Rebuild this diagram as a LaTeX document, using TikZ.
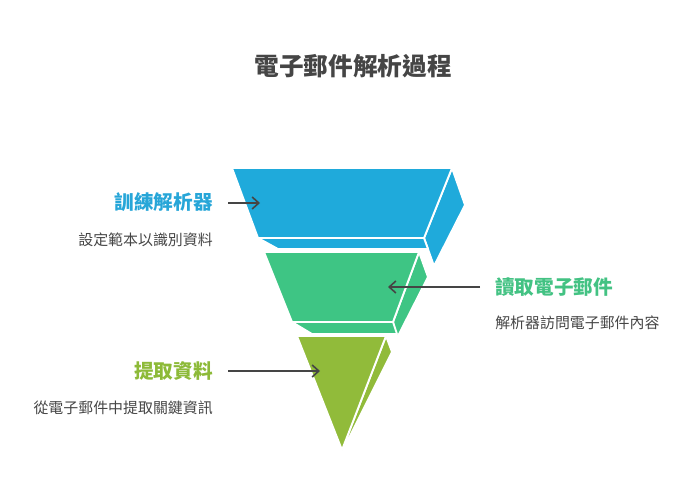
\documentclass[tikz,border=0pt]{standalone}
\usepackage{fontspec}
\newfontfamily\cjk{Noto Sans CJK TC}
\usepackage{tikz}
\usetikzlibrary{arrows.meta, positioning}
\definecolor{blueface}{HTML}{1FAADB}
\definecolor{greenface}{HTML}{3EC584}
\definecolor{oliveface}{HTML}{91BB3A}
\definecolor{bluetext}{HTML}{27A6D8}
\definecolor{greentext}{HTML}{43C283}
\definecolor{olivetext}{HTML}{8DBA38}
\definecolor{darktext}{HTML}{454545}

\begin{document}
\begin{tikzpicture}[
        x=0.75pt, y=-0.75pt, >={Straight Barb[length=5pt, width=9pt]},
        face/.style={draw=white, line width=1.4pt, line join=round},
        label text/.style={inner sep=0pt, font=\cjk\fontsize{14.7}{16}\selectfont\bfseries},
        desc text/.style={inner sep=0pt, font=\cjk\fontsize{11.2}{13}\selectfont, text=darktext},
        pointer/.style={->, draw=darktext, line width=1.2pt},
        ]
        \useasboundingbox (0,0) rectangle (696,503);

        \node[inner sep=0pt, font=\cjk\fontsize{18.5}{20}\selectfont\bfseries, text=darktext] (title) at (353,66) {電子郵件解析過程};

        % top layer
        \fill[blueface, face] (452,168) -- (465,205) -- (434,266) -- (424,238) -- cycle;
        \fill[blueface, face] (258,238) -- (424,238) -- (428,249) -- (278,249) -- cycle;
        \fill[blueface, face] (232,168) -- (452,168) -- (424,238) -- (258,238) -- cycle;

        % middle layer
        \fill[greenface, face] (419,252) -- (428,277) -- (397,338) -- (393,322) -- cycle;
        \fill[greenface, face] (292,322) -- (393,322) -- (397,334) -- (312,334) -- cycle;
        \fill[greenface, face] (264,252) -- (419,252) -- (393,322) -- (292,322) -- cycle;

        % bottom layer
        \fill[oliveface, face] (386,336) -- (392,352) -- (344,448) -- (342,450) -- cycle;
        \fill[oliveface, face] (297,336) -- (386,336) -- (342,450) -- cycle;

        \node[label text, text=bluetext, anchor=east]   (lbl_1) at (213,202) {訓練解析器};
        \node[desc text, anchor=east]                    (desc_1) at (213,240) {設定範本以識別資料};
        \node[label text, text=greentext, anchor=west]  (lbl_2) at (495,287) {讀取電子郵件};
        \node[desc text, anchor=west]                    (desc_2) at (495,323) {解析器訪問電子郵件內容};
        \node[label text, text=olivetext, anchor=east]  (lbl_3) at (213,371) {提取資料};
        \node[desc text, anchor=east]                    (desc_3) at (213,408) {從電子郵件中提取關鍵資訊};

        \coordinate (tail_1) at (228,203);
        \coordinate (tip_1) at (260,203);
        \coordinate (tail_2) at (480,287);
        \coordinate (tip_2) at (388,287);
        \coordinate (tail_3) at (228,371);
        \coordinate (tip_3) at (320,371);

        \draw[pointer] (tail_1) -- (tip_1);
        \draw[pointer] (tail_2) -- (tip_2);
        \draw[pointer] (tail_3) -- (tip_3);
\end{tikzpicture}
\end{document}
